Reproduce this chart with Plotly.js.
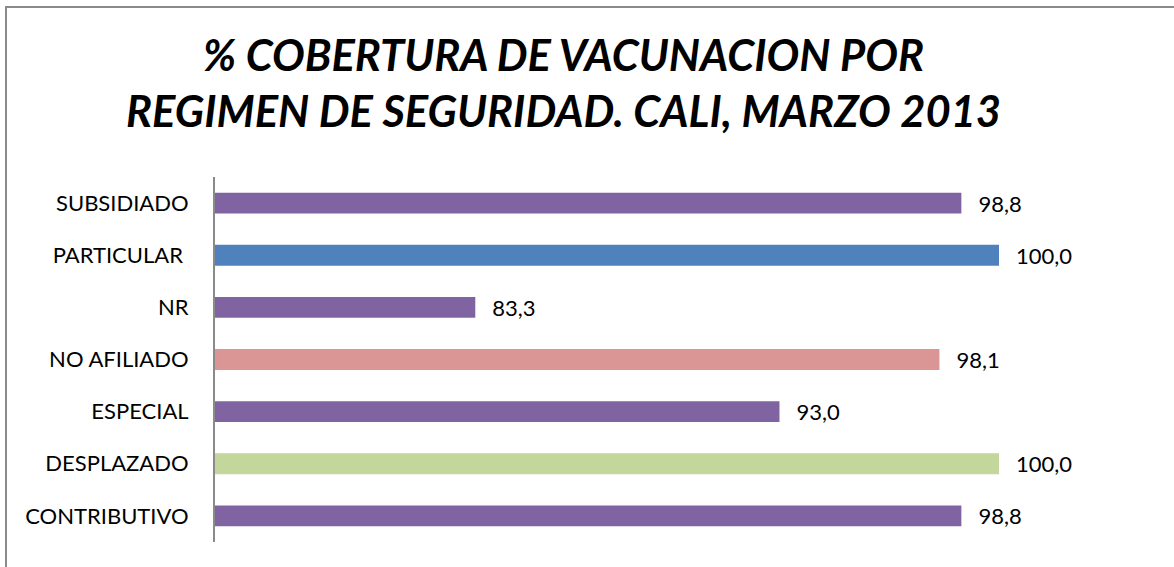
<!DOCTYPE html>
<html><head><meta charset="utf-8">
<script src="https://cdn.plot.ly/plotly-3.0.1.min.js"></script>
<style>
html,body{margin:0;padding:0;background:#fff;overflow:hidden;}
#wrap{position:relative;width:1174px;height:567px;}
#chart{position:absolute;left:0;top:0;width:1174px;height:567px;}
#frame{position:absolute;left:5px;top:6px;width:1200px;height:600px;border:2px solid #8a8a8a;box-sizing:border-box;pointer-events:none;}
</style>
</head><body>
<div id="wrap"><div id="chart"></div><div id="frame"></div></div>
<script>
const categories = ['CONTRIBUTIVO','DESPLAZADO','ESPECIAL','NO AFILIADO','NR','PARTICULAR\u00a0','SUBSIDIADO'];
const values = [98.8, 100.0, 93.0, 98.1, 83.3, 100.0, 98.8];
const barColors = ['#8064A2','#C3D69B','#8064A2','#D99694','#8064A2','#4F81BD','#8064A2'];
const titleText = '% COBERTURA DE VACUNACION POR<br>REGIMEN DE SEGURIDAD. CALI, MARZO 2013';

const trace = {
  type: 'bar',
  orientation: 'h',
  y: categories,
  x: values,
  marker: {color: barColors, line: {width: 0}},
  text: values.map(v => v.toFixed(1).replace('.', ',')),
  texttemplate: '\u00a0\u00a0\u2009%{text}',
  textposition: 'outside',
  constraintext: 'none',
  cliponaxis: false,
  textfont: {family: 'Lato, sans-serif', size: 22, color: '#000'},
  hoverinfo: 'none'
};

const layout = {
  width: 1174, height: 567,
  margin: {l: 215, r: 175, t: 177, b: 25, pad: 0},
  paper_bgcolor: '#fff', plot_bgcolor: '#fff',
  separators: ',.',
  bargap: 0.6,
  showlegend: false,
  title: {
    text: titleText,
    font: {family: 'Lato, sans-serif', size: 43.5, color: '#000', weight: 'bold', style: 'italic'},
    x: 0.48, xanchor: 'center', xref: 'container',
    y: 0.875, yanchor: 'top', yref: 'container'
  },
  xaxis: {
    range: [75, 100],
    showticklabels: false, showgrid: false, zeroline: false, showline: false, ticks: ''
  },
  yaxis: {
    showline: true, linecolor: '#8a8a8a', linewidth: 2,
    ticks: '', showgrid: false, zeroline: false,
    ticklabelstandoff: 20,
    tickfont: {family: 'Lato, sans-serif', size: 22, color: '#000'}
  }
};

Plotly.newPlot('chart', [trace], layout, {staticPlot: true, displayModeBar: false});
</script>
</body></html>
